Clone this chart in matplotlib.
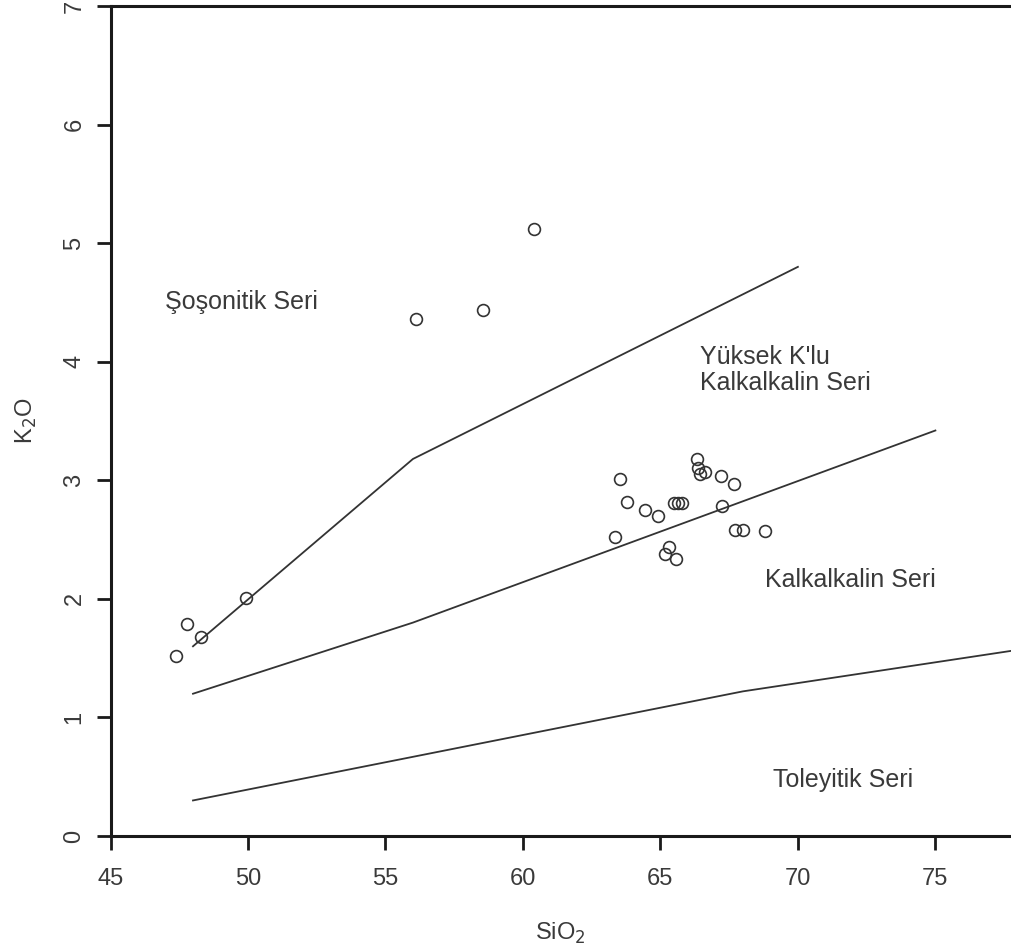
import matplotlib.pyplot as plt

plt.rcParams['font.family'] = ['Liberation Sans', 'DejaVu Sans']

# K2O vs SiO2 samples
sio2 = [47.37, 47.77, 48.28, 49.92, 56.10, 58.53, 60.40,
        63.53, 63.77, 64.45, 64.93, 63.36, 65.50, 65.65, 65.80,
        65.30, 65.18, 65.56, 66.34, 66.38, 66.45, 66.62,
        67.19, 67.67, 67.23, 67.73, 68.01, 68.80]
k2o = [1.52, 1.79, 1.68, 2.01, 4.36, 4.44, 5.12,
       3.01, 2.82, 2.75, 2.70, 2.52, 2.81, 2.81, 2.81,
       2.44, 2.38, 2.34, 3.18, 3.10, 3.05, 3.07,
       3.04, 2.97, 2.78, 2.58, 2.58, 2.57]

# series boundaries
sho_x = [48, 56, 70]
sho_y = [1.6, 3.18, 4.8]
hik_x = [48, 56, 75]
hik_y = [1.2, 1.8, 3.42]
tho_x = [48, 68, 78]
tho_y = [0.3, 1.22, 1.57]

fig = plt.figure(figsize=(10.11, 9.51), dpi=100)
ax = fig.add_axes([0.1093, 0.1209, 0.8907, 0.8728])

lc = '#333333'
ax.plot(sho_x, sho_y, color=lc, lw=1.3)
ax.plot(hik_x, hik_y, color=lc, lw=1.3)
ax.plot(tho_x, tho_y, color=lc, lw=1.3)
ax.plot(sio2, k2o, 'o', ms=8.5, mfc='none', mec='#333333', mew=1.2)

fs = 18
tc = '#3a3a3a'
ax.text(46.98, 4.50, 'Şoşonitik Seri', fontsize=fs, color=tc, va='center')
ax.text(66.44, 4.04, "Yüksek K'lu", fontsize=fs, color=tc, va='center')
ax.text(66.44, 3.82, 'Kalkalkalin Seri', fontsize=fs, color=tc, va='center')
ax.text(68.8, 2.16, 'Kalkalkalin Seri', fontsize=fs, color=tc, va='center')
ax.text(69.09, 0.47, 'Toleyitik Seri', fontsize=fs, color=tc, va='center')

ax.set_xlim(45, 77.75)
ax.set_ylim(0, 7)
ax.set_xticks(range(45, 76, 5))
ax.set_yticks(range(0, 8))
ax.spines['right'].set_visible(False)
for s in ['left', 'top', 'bottom']:
    ax.spines[s].set_linewidth(2.2)
    ax.spines[s].set_color('#1a1a1a')
ax.tick_params(length=10, width=2, color='#1a1a1a', labelsize=17, labelcolor=tc)
ax.tick_params(axis='x', pad=13)
ax.tick_params(axis='y', pad=8)
for lab in ax.get_yticklabels():
    lab.set_rotation(90)
    lab.set_va('center')

ax.set_xlabel('SiO$_2$', fontsize=17, color=tc, labelpad=22)
ax.set_ylabel('K$_2$O', fontsize=17, color=tc, labelpad=18)

plt.savefig('out.png', dpi=100)
